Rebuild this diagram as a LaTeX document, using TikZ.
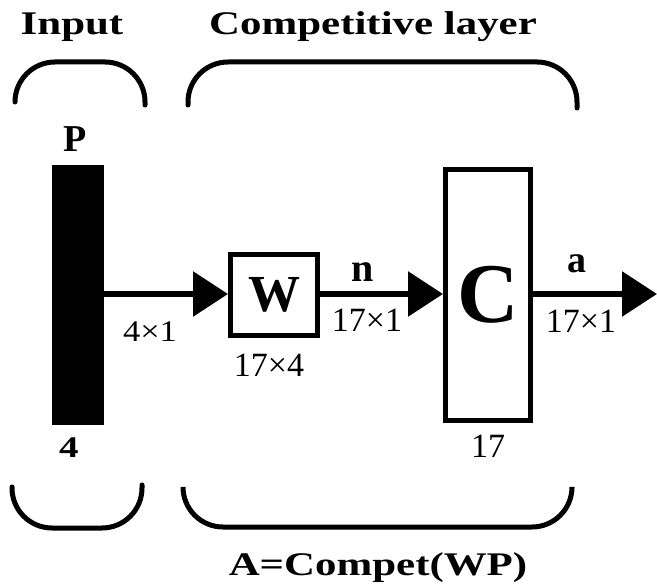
\documentclass[tikz,border=0pt]{standalone}
\usepackage{fontspec}
\setmainfont{Liberation Serif}
\usepackage{xcolor}
\usepackage{tikz}
\usetikzlibrary{arrows.meta}

\tikzset{
  brace/.style={line width=5pt, line cap=round, rounded corners=40pt},
  block/.style={draw, line width=5pt, inner sep=0pt},
  link/.style={line width=6pt, -{Triangle[length=35pt,width=44pt]}},
  title/.style={anchor=base, inner sep=0pt, font=\fontsize{33}{36}\selectfont\bfseries},
  dimlabel/.style={anchor=base, inner sep=0pt, font=\fontsize{34}{36}\selectfont}
}

\newcommand{\wide}[1]{\scalebox{1.3}[1]{#1}}

\begin{document}
\begin{tikzpicture}[x=1pt,y=-1pt]

\useasboundingbox (0,0) rectangle (657,588);

\node[title] (tin) at (72,35) {\wide{Input}};
\node[title] (tcomp) at (373,35) {\wide{Competitive layer}};
\node[title] (tform) at (378,575) {\wide{A=Compet(WP)}};

\draw[brace] (15,102) -- (15,62) -- (145,62) -- (145,105);
\draw[brace] (188,105) -- (188,62) -- (577,62) -- (577,108);

\draw[brace] (12,487) -- (12,528) -- (142,528) -- (142,485);
\draw[brace] (183,488) -- (183,527) -- (572,527) -- (572,488);

\node[fill=black, minimum width=52pt, minimum height=260pt, inner sep=0pt] (p) at (78,295) {};
\node[block, minimum width=87pt, minimum height=81pt, font=\fontsize{52}{52}\selectfont\bfseries] (w) at (274,295) {W};
\node[block, minimum width=85pt, minimum height=251pt, font=\fontsize{85}{85}\selectfont\bfseries] (c) at (488,295) {C};
\coordinate (out) at (657,294);

\draw[link] (p.east |- 0,294) -- (w.west |- 0,294);
\draw[link] (w.east |- 0,294) -- (c.west |- 0,294);
\draw[link] (c.east |- 0,294) -- (out);

\node[title, font=\fontsize{38}{40}\selectfont\bfseries] (lp) at (75,152) {P};
\node[title, font=\fontsize{30}{32}\selectfont\bfseries] (lfour) at (69,458) {\wide{4}};
\node[title, font=\fontsize{40}{40}\selectfont\bfseries] (ln) at (363,282) {n};
\node[title, font=\fontsize{38}{40}\selectfont\bfseries] (la) at (577,273) {a};

\node[dimlabel, font=\fontsize{30}{32}\selectfont] (d41) at (150,342) {\scalebox{1.15}[1]{4×1}};
\node[dimlabel] (d174) at (269,377) {17×4};
\node[dimlabel] (d171) at (367,332) {17×1};
\node[dimlabel] (d17) at (488,457) {17};
\node[dimlabel] (dout) at (581,333) {17×1};

\end{tikzpicture}
\end{document}
